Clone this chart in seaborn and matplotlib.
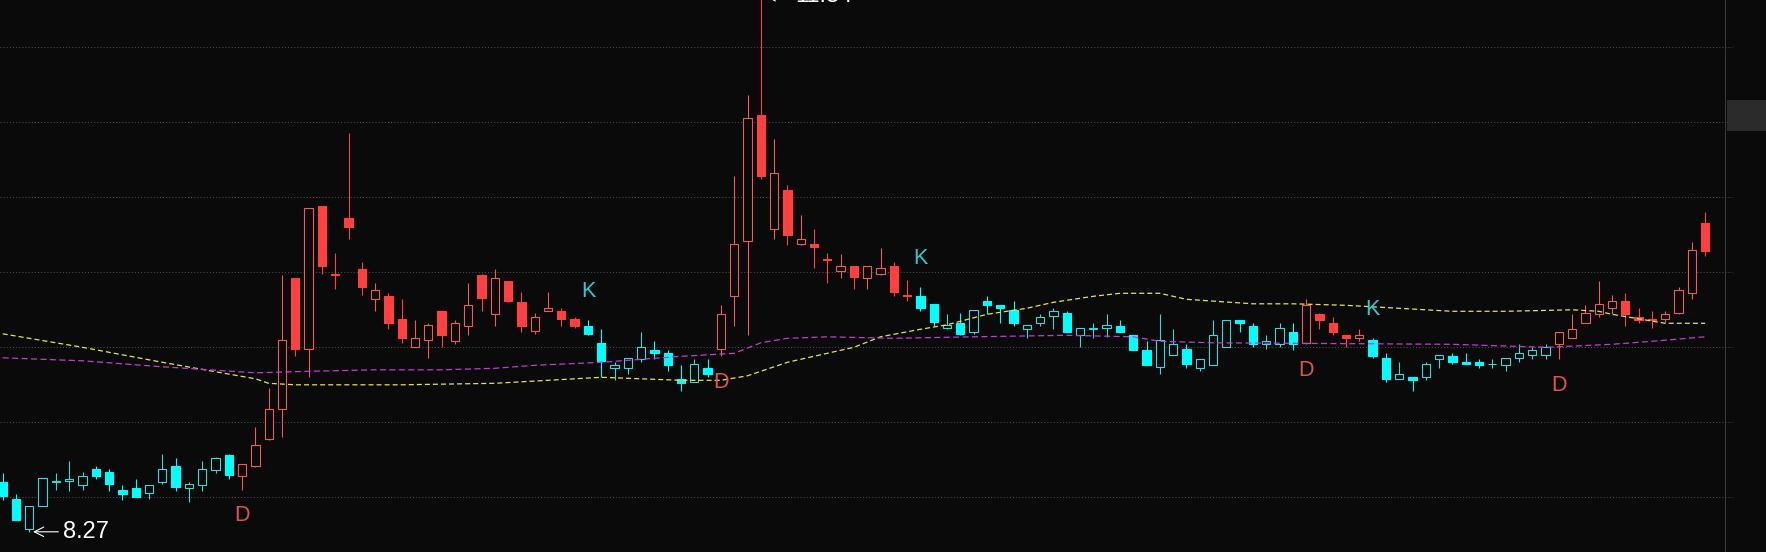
import numpy as np
import pandas as pd
import seaborn as sns
import matplotlib.pyplot as plt
from matplotlib.patches import Rectangle

# daily candles (price units)
opens = [8.60, 8.49, 8.29, 8.44, 8.60, 8.61, 8.58, 8.69, 8.67, 8.55,
         8.56, 8.53, 8.60, 8.71, 8.56, 8.58, 8.68, 8.78, 8.64, 8.71,
         8.89, 9.09, 9.96, 9.49, 10.44, 9.99, 10.36, 10.02, 9.82, 9.84,
         9.69, 9.50, 9.55, 9.74, 9.54, 9.64, 9.98, 9.72, 9.94, 9.80,
         9.61, 9.74, 9.74, 9.69, 9.64, 9.53, 9.36, 9.36, 9.42, 9.48,
         9.46, 9.29, 9.27, 9.36, 9.49, 9.84, 10.21, 11.05, 10.29, 10.55,
         10.19, 10.19, 10.09, 10.01, 10.04, 9.96, 9.99, 10.04, 9.85, 9.84,
         9.79, 9.63, 9.66, 9.60, 9.81, 9.78, 9.75, 9.62, 9.66, 9.71,
         9.73, 9.58, 9.62, 9.63, 9.64, 9.58, 9.48, 9.37, 9.45, 9.49,
         9.36, 9.38, 9.50, 9.68, 9.64, 9.52, 9.52, 9.60, 9.53, 9.72,
         9.66, 9.58, 9.56, 9.55, 9.43, 9.29, 9.30, 9.30, 9.42, 9.44,
         9.40, 9.40, 9.39, 9.38, 9.43, 9.45, 9.45, 9.52, 9.56, 9.66,
         9.72, 9.76, 9.81, 9.70, 9.69, 9.69, 9.73, 9.86, 10.33]
highs = [8.66, 8.52, 8.44, 8.63, 8.66, 8.74, 8.67, 8.71, 8.69, 8.58,
         8.62, 8.58, 8.79, 8.76, 8.60, 8.74, 8.77, 8.79, 8.72, 8.97,
         9.23, 9.98, 9.96, 10.43, 10.44, 10.13, 10.93, 10.07, 9.93, 9.86,
         9.82, 9.68, 9.66, 9.74, 9.68, 9.93, 9.99, 10.02, 9.94, 9.87,
         9.73, 9.87, 9.76, 9.70, 9.68, 9.62, 9.40, 9.43, 9.60, 9.54,
         9.48, 9.38, 9.42, 9.42, 9.78, 10.64, 11.18, 11.84, 10.89, 10.58,
         10.38, 10.29, 10.13, 10.12, 10.04, 10.04, 10.16, 10.07, 9.95, 9.90,
         9.79, 9.72, 9.73, 9.75, 9.84, 9.78, 9.81, 9.65, 9.72, 9.76,
         9.74, 9.63, 9.66, 9.72, 9.68, 9.58, 9.54, 9.72, 9.62, 9.52,
         9.42, 9.68, 9.68, 9.68, 9.66, 9.58, 9.66, 9.66, 9.82, 9.73,
         9.70, 9.58, 9.62, 9.56, 9.46, 9.40, 9.30, 9.40, 9.45, 9.46,
         9.46, 9.42, 9.42, 9.43, 9.52, 9.50, 9.52, 9.60, 9.72, 9.78,
         9.94, 9.85, 9.86, 9.76, 9.74, 9.74, 9.90, 10.20, 10.40]
lows = [8.48, 8.35, 8.27, 8.44, 8.55, 8.54, 8.55, 8.62, 8.54, 8.48,
        8.50, 8.49, 8.59, 8.54, 8.47, 8.54, 8.66, 8.62, 8.55, 8.70,
        8.88, 8.90, 9.44, 9.30, 9.99, 9.89, 10.22, 9.85, 9.74, 9.62,
        9.53, 9.50, 9.43, 9.50, 9.52, 9.58, 9.74, 9.64, 9.80, 9.60,
        9.59, 9.74, 9.64, 9.63, 9.58, 9.30, 9.28, 9.32, 9.40, 9.42,
        9.34, 9.21, 9.27, 9.30, 9.44, 9.64, 9.58, 10.62, 10.22, 10.18,
        10.18, 10.03, 9.93, 9.96, 9.89, 9.89, 9.98, 9.84, 9.81, 9.74,
        9.64, 9.62, 9.58, 9.59, 9.72, 9.66, 9.64, 9.56, 9.64, 9.62,
        9.60, 9.50, 9.56, 9.57, 9.60, 9.48, 9.38, 9.32, 9.45, 9.36,
        9.34, 9.38, 9.50, 9.60, 9.50, 9.49, 9.50, 9.48, 9.52, 9.62,
        9.58, 9.50, 9.54, 9.43, 9.27, 9.29, 9.21, 9.28, 9.36, 9.39,
        9.39, 9.36, 9.36, 9.34, 9.40, 9.42, 9.42, 9.42, 9.56, 9.66,
        9.70, 9.72, 9.64, 9.66, 9.63, 9.67, 9.72, 9.82, 10.11]
closes = [8.51, 8.35, 8.44, 8.63, 8.61, 8.62, 8.64, 8.64, 8.59, 8.52,
          8.50, 8.58, 8.69, 8.57, 8.59, 8.69, 8.76, 8.65, 8.72, 8.85,
          9.09, 9.55, 9.49, 10.43, 10.04, 9.98, 10.30, 9.90, 9.88, 9.66,
          9.56, 9.56, 9.65, 9.58, 9.66, 9.78, 9.83, 9.96, 9.81, 9.64,
          9.70, 9.76, 9.69, 9.64, 9.59, 9.41, 9.38, 9.43, 9.50, 9.46,
          9.38, 9.26, 9.39, 9.32, 9.72, 10.19, 11.03, 10.64, 10.66, 10.25,
          10.22, 10.17, 10.08, 10.04, 9.97, 10.04, 10.03, 9.87, 9.84, 9.76,
          9.67, 9.65, 9.59, 9.75, 9.78, 9.76, 9.66, 9.65, 9.70, 9.74,
          9.60, 9.63, 9.63, 9.65, 9.60, 9.48, 9.38, 9.55, 9.52, 9.39,
          9.42, 9.58, 9.68, 9.66, 9.52, 9.54, 9.63, 9.52, 9.78, 9.68,
          9.60, 9.56, 9.58, 9.44, 9.29, 9.32, 9.28, 9.39, 9.45, 9.40,
          9.39, 9.38, 9.39, 9.43, 9.46, 9.48, 9.50, 9.60, 9.62, 9.73,
          9.79, 9.81, 9.72, 9.68, 9.68, 9.72, 9.88, 10.15, 10.14]

# K / D signals (candle index, kind); candles take the colour of the last signal
signal_idx = [18, 44, 54, 69, 98, 103, 117]
signal_kind = ['D', 'K', 'D', 'K', 'D', 'K', 'D']

# the two dashed average lines, sampled at candle indices
ma_yellow_x = [0, 6, 12, 19, 20, 22, 30, 37, 45, 51, 54, 56, 59, 61, 64, 66, 69, 71,
               74, 77, 79, 82, 84, 87, 89, 94, 97, 101, 105, 109, 113, 118, 120, 121,
               123, 125, 128]
ma_yellow = [9.59, 9.50, 9.40, 9.29, 9.26, 9.25, 9.25, 9.26, 9.30, 9.28, 9.28, 9.31,
             9.40, 9.44, 9.50, 9.57, 9.62, 9.65, 9.72, 9.76, 9.80, 9.84, 9.86, 9.86,
             9.82, 9.79, 9.79, 9.78, 9.76, 9.74, 9.74, 9.75, 9.74, 9.72, 9.69, 9.66, 9.66]
ma_pink_x = [0, 6, 12, 19, 23, 28, 33, 37, 40, 45, 51, 55, 57, 59, 62, 67, 73, 80,
             85, 87, 91, 109, 116, 121, 124, 128]
ma_pink = [9.43, 9.41, 9.37, 9.33, 9.34, 9.35, 9.35, 9.36, 9.38, 9.40, 9.44, 9.46,
           9.53, 9.56, 9.57, 9.56, 9.57, 9.58, 9.57, 9.54, 9.53, 9.52, 9.50, 9.52,
           9.54, 9.57]

grid_levels = [8.5, 9.0, 9.5, 10.0, 10.5, 11.0, 11.5]

bg = '#0a0a0a'
sns.set_style('dark', {'axes.facecolor': bg, 'figure.facecolor': bg})
plt.rcParams['font.family'] = ['Liberation Sans', 'DejaVu Sans']
plt.rcParams['lines.scale_dashes'] = False

df = pd.DataFrame({'open': opens, 'high': highs, 'low': lows, 'close': closes})
df['idx'] = np.arange(len(df))
sig = dict(zip(signal_idx, signal_kind))
cur = 'K'
phase = []
for i in df['idx']:
    cur = sig.get(i, cur)
    phase.append(cur)
df['phase'] = phase
df['hollow'] = df['close'] >= df['open']

fill_col = {'D': '#ff4040', 'K': '#00ffff'}
line_col = {'D': '#ec5c56', 'K': '#3cd6d6'}
face = [bg if h else fill_col[p] for h, p in zip(df['hollow'], df['phase'])]
edge = [line_col[p] if h else fill_col[p] for h, p in zip(df['hollow'], df['phase'])]

fig = plt.figure(figsize=(17.66, 5.52), dpi=100)
axw = 1725 / 1766
ax = fig.add_axes([0, 0, axw, 1])
ax.set_facecolor(bg)

for lv in grid_levels:
    ax.axhline(lv, xmin=0, xmax=1732 / 1725, color='#4f4f4f', lw=0.75,
               ls=(0, (0.75, 1.5)), zorder=1, clip_on=False)

# wicks then bodies
ax.vlines(df['idx'], df['low'], df['high'], colors=edge, lw=0.8, zorder=2)
ax.bar(df['idx'], (df['close'] - df['open']).abs(), bottom=df[['open', 'close']].min(axis=1),
       width=0.63, color=face, edgecolor=edge, linewidth=0.8, zorder=3)

sns.lineplot(x=ma_yellow_x, y=ma_yellow, ax=ax, color='#e4e44a', lw=0.9, zorder=4)
ax.lines[-1].set_dashes((3.6, 2.2))
sns.lineplot(x=ma_pink_x, y=ma_pink, ax=ax, color='#c23cd4', lw=0.9, zorder=4)
ax.lines[-1].set_dashes((4.3, 2.5))

for i, k in zip(signal_idx, signal_kind):
    if k == 'D':
        ax.annotate('D', xy=(i, lows[i]), xytext=(0, -18.7), textcoords='offset points',
                    ha='center', va='center', color='#e0524e', fontsize=15.5, zorder=5)
    else:
        ax.annotate('K', xy=(i, highs[i]), xytext=(0, 20.9), textcoords='offset points',
                    ha='center', va='center', color='#30c8d2', fontsize=15.5, zorder=5)

lo_i = int(np.argmin(lows))
hi_i = int(np.argmax(highs))
arrow = dict(arrowstyle='->', color='white', lw=0.8, shrinkA=1, shrinkB=0)
ax.annotate(f'{lows[lo_i]:.2f}', xy=(lo_i + 0.28, lows[lo_i]), xytext=(21.6, 0),
            textcoords='offset points', ha='left', va='center', color='white',
            fontsize=17, arrowprops=arrow, zorder=5)
ax.annotate(f'{highs[hi_i]:.2f}', xy=(hi_i + 0.3, highs[hi_i]), xytext=(21.6, 0),
            textcoords='offset points', ha='left', va='center', color='white',
            fontsize=17, arrowprops=arrow, annotation_clip=False, zorder=5)

ax.set_xlim(-2.7 / 13.3, (1725 - 2.7) / 13.3)
ax.set_ylim(8.5 - 54.7 / 150, 8.5 + 497.3 / 150)
ax.set_xticks([])
ax.set_yticks([])
for s in ['top', 'left', 'bottom']:
    ax.spines[s].set_visible(False)
ax.spines['right'].set_visible(True)
ax.spines['right'].set_color('#3a3a3a')
ax.spines['right'].set_linewidth(0.75)

fig.add_artist(Rectangle((1727 / 1766, 1 - 131 / 552), 39 / 1766, 31 / 552,
                         transform=fig.transFigure, facecolor='#2b2b2b', edgecolor='none'))

fig.savefig('out.png', dpi=100, facecolor=bg)
